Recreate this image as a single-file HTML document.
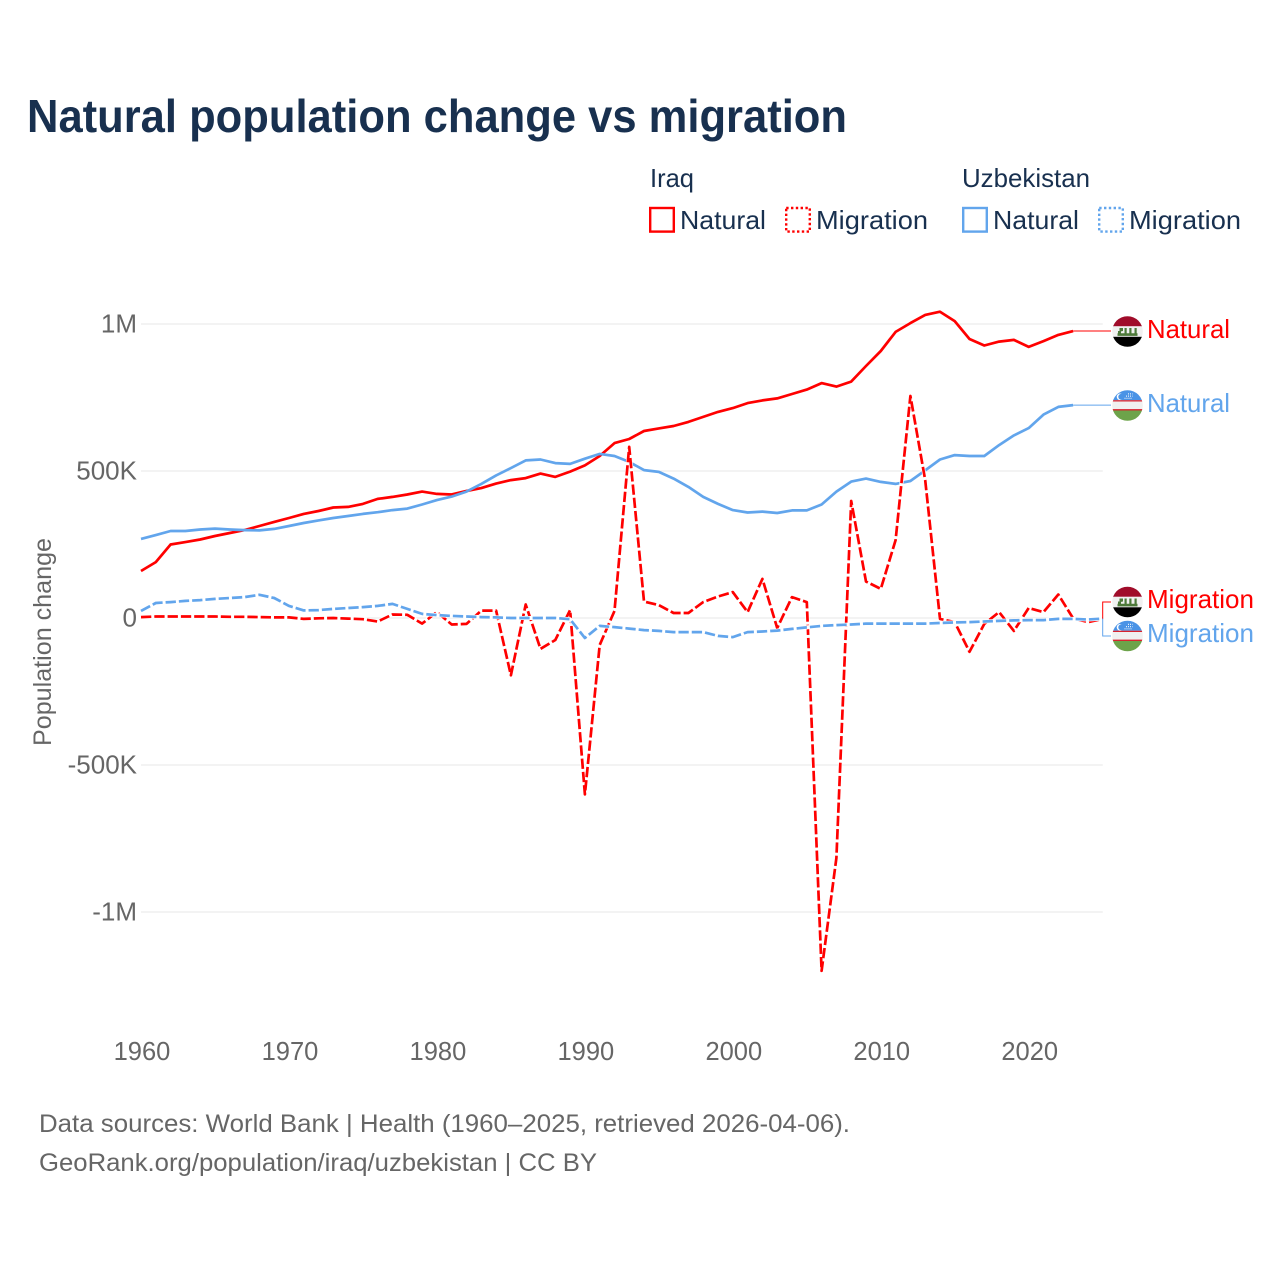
<!DOCTYPE html>
<html lang="en">
<head>
<meta charset="utf-8">
<title>Natural population change vs migration</title>
<style>
html,body{margin:0;padding:0;background:#fff;}
svg{display:block;font-family:"Liberation Sans",sans-serif;}
</style>
</head>
<body>
<svg id="chart" xmlns="http://www.w3.org/2000/svg" width="1280" height="1280" viewBox="0 0 1280 1280">
  <rect width="1280" height="1280" fill="#ffffff"/>
  <text x="27" y="132" font-size="46" font-weight="bold" fill="#18304f" textLength="820" lengthAdjust="spacingAndGlyphs">Natural population change vs migration</text>

  <g font-size="26" fill="#18304f">
    <text x="650" y="187" textLength="44" lengthAdjust="spacingAndGlyphs">Iraq</text>
    <text x="962" y="187" textLength="128" lengthAdjust="spacingAndGlyphs">Uzbekistan</text>
    <rect x="650.200" y="208" width="23.600" height="23.600" fill="none" stroke="#ff0000" stroke-width="2.400"/>
    <text x="680" y="229" textLength="86" lengthAdjust="spacingAndGlyphs">Natural</text>
    <rect x="786.200" y="208" width="23.600" height="23.600" fill="none" stroke="#ff0000" stroke-width="2.400" stroke-dasharray="2.400 2.400"/>
    <text x="816" y="229" textLength="112" lengthAdjust="spacingAndGlyphs">Migration</text>
    <rect x="963.200" y="208" width="23.600" height="23.600" fill="none" stroke="#62a5ec" stroke-width="2.400"/>
    <text x="993" y="229" textLength="86" lengthAdjust="spacingAndGlyphs">Natural</text>
    <rect x="1099.200" y="208" width="23.600" height="23.600" fill="none" stroke="#62a5ec" stroke-width="2.400" stroke-dasharray="2.400 2.400"/>
    <text x="1129" y="229" textLength="112" lengthAdjust="spacingAndGlyphs">Migration</text>
  </g>

  <text transform="translate(51,746) rotate(-90)" font-size="25" fill="#666666" textLength="208" lengthAdjust="spacingAndGlyphs">Population change</text>

  <g id="grid-layer"></g>
  <g id="tick-layer"></g>
  <g id="series-layer"></g>
  <g id="connector-layer"></g>

  <defs>
    <clipPath id="flag-clip"><circle cx="0" cy="0" r="15.3"/></clipPath>
    <g id="flag-iraq">
      <g clip-path="url(#flag-clip)">
        <rect x="-16" y="-16" width="32" height="11" fill="#a00c2a"/>
        <rect x="-16" y="-5.300" width="32" height="10.600" fill="#f0f0f0"/>
        <rect x="-16" y="5.300" width="32" height="11" fill="#000000"/>
        <path d="M-10 1.800h20v2.600h-20z M-9.500-.5h3v2.500h-3z M-8-3.500l3.500 0v3l-3.500 .8z M-3-3.500h2.200v5.500h-2.200z M1.800-3.500h2.200v5.500h-2.200z M7-3.500h2.200v5.500h-2.200z" fill="#4d7a3a"/>
      </g>
    </g>
    <g id="flag-uzbekistan">
      <g clip-path="url(#flag-clip)">
        <rect x="-16" y="-16" width="32" height="10.700" fill="#4a93e6"/>
        <rect x="-16" y="-5.300" width="32" height="1.300" fill="#d8232f"/>
        <rect x="-16" y="-4" width="32" height="7.600" fill="#f0f0f0"/>
        <rect x="-16" y="3.600" width="32" height="1.400" fill="#d8232f"/>
        <rect x="-16" y="5" width="32" height="11" fill="#6da34a"/>
        <circle cx="-7.500" cy="-8.700" r="3.300" fill="#ffffff"/>
        <circle cx="-6.300" cy="-8.700" r="2.900" fill="#4a93e6"/>
        <path d="M-3-7.200h8 M-1.500-9.400h6.500 M0.500-11.600h4.500" fill="none" stroke="#e4effb" stroke-width="1.200" stroke-dasharray="1 1"/>
      </g>
    </g>
  </defs>

  <g font-size="26">
    <use href="#flag-iraq" x="1127.500" y="331.500"/>
    <text x="1147" y="338" fill="#ff0000" textLength="83" lengthAdjust="spacingAndGlyphs">Natural</text>
    <use href="#flag-uzbekistan" x="1127.500" y="405.500"/>
    <text x="1147" y="412" fill="#62a5ec" textLength="83" lengthAdjust="spacingAndGlyphs">Natural</text>
    <use href="#flag-iraq" x="1127.500" y="602"/>
    <text x="1147" y="608" fill="#ff0000" textLength="107" lengthAdjust="spacingAndGlyphs">Migration</text>
    <use href="#flag-uzbekistan" x="1127.500" y="636"/>
    <text x="1147" y="642" fill="#62a5ec" textLength="107" lengthAdjust="spacingAndGlyphs">Migration</text>
  </g>

  <g font-size="25" fill="#666666">
    <text x="39" y="1132" textLength="811" lengthAdjust="spacingAndGlyphs">Data sources: World Bank | Health (1960–2025, retrieved 2026-04-06).</text>
    <text x="39" y="1171" textLength="558" lengthAdjust="spacingAndGlyphs">GeoRank.org/population/iraq/uzbekistan | CC BY</text>
  </g>
</svg>
<script>
const startYear = 1960;
const yTickValues = [1000, 500, 0, -500, -1000];
const yTickLabels = ['1M', '500K', '0', '-500K', '-1M'];
const xTickYears = [1960, 1970, 1980, 1990, 2000, 2010, 2020];

const iraqNatural = [160,190,250,258,267,279,289,299,313,327,340,354,364,376,378,388,405,412,420,430,422,420,432,442,457,469,476,491,480,498,519,551,595,609,636,645,653,667,684,701,714,731,740,747,762,777,799,787,804,857,908,973,1003,1031,1042,1010,949,927,940,946,922,942,963,976];
const uzbekistanNatural = [269,282,296,296,301,304,301,299,298,303,313,323,332,340,347,354,360,367,372,386,401,413,430,456,485,510,536,539,527,524,542,558,551,531,503,497,474,446,412,388,367,359,362,357,366,366,386,430,464,474,463,456,466,502,539,554,551,551,588,621,646,692,718,724];
const iraqMigration = [3,5,5,5,5,5,4,4,3,2,2,-3,-1,0,-2,-4,-12,12,11,-19,20,-22,-20,25,25,-195,46,-105,-75,27,-600,-92,24,582,56,44,17,17,54,73,88,20,133,-34,71,54,-1200,-816,398,124,99,265,755,469,-3,-14,-115,-20,20,-44,34,20,80,-1,-14,-3];
const uzbekistanMigration = [24,51,54,58,61,65,68,71,79,68,41,26,27,31,34,37,41,48,31,14,10,7,5,3,2,0,0,0,0,-4,-68,-27,-31,-36,-41,-44,-48,-48,-48,-61,-65,-48,-46,-43,-37,-32,-27,-24,-22,-19,-19,-19,-19,-19,-17,-15,-14,-12,-10,-8,-7,-7,-3,-3,-5,-2];

const NS = 'http://www.w3.org/2000/svg';
const RED = '#ff0000';
const BLUE = '#62a5ec';
const plotLeft = 141;
const plotRight = 1102.700;
const xScale = function (year) { return plotLeft + (year - 1960) * (plotRight - plotLeft) / 65; };
const yScale = function (value) { return 618 - value * 0.294; };

function linePoints(values) {
  return values.map(function (v, i) {
    return xScale(startYear + i).toFixed(1) + ',' + yScale(v).toFixed(1);
  }).join(' ');
}

const gridLayer = document.getElementById('grid-layer');
const tickLayer = document.getElementById('tick-layer');
const seriesLayer = document.getElementById('series-layer');
const connectorLayer = document.getElementById('connector-layer');

yTickValues.forEach(function (value, i) {
  const line = document.createElementNS(NS, 'line');
  
  
  line.setAttribute('x1', plotLeft);
  line.setAttribute('x2', plotRight);
  line.setAttribute('y1', yScale(value));
  line.setAttribute('y2', yScale(value));
  line.setAttribute('stroke', '#e7e7e7');
  line.setAttribute('stroke-width', '1');
  gridLayer.appendChild(line);

  const label = document.createElementNS(NS, 'text');
  
  
  label.setAttribute('x', 137);
  label.setAttribute('y', yScale(value) + 8.500);
  label.setAttribute('text-anchor', 'end');
  label.setAttribute('font-size', '26');
  label.setAttribute('fill', '#666666');
  label.textContent = yTickLabels[i];
  tickLayer.appendChild(label);
});

xTickYears.forEach(function (year) {
  const label = document.createElementNS(NS, 'text');
  
  
  label.setAttribute('x', xScale(year) + 1);
  label.setAttribute('y', 1060);
  label.setAttribute('text-anchor', 'middle');
  label.setAttribute('font-size', '25.500');
  label.setAttribute('fill', '#666666');
  label.textContent = String(year);
  tickLayer.appendChild(label);
});

function drawSeries(values, color, dashed, name) {
  if (dashed) {
    const halo = document.createElementNS(NS, 'polyline');
    
    
    halo.setAttribute('points', linePoints(values));
    halo.setAttribute('fill', 'none');
    halo.setAttribute('stroke', '#ffffff');
    halo.setAttribute('stroke-width', '4');
    halo.setAttribute('stroke-linejoin', 'round');
    seriesLayer.appendChild(halo);
  }
  const line = document.createElementNS(NS, 'polyline');
  
  
  line.setAttribute('points', linePoints(values));
  line.setAttribute('fill', 'none');
  line.setAttribute('stroke', color);
  line.setAttribute('stroke-width', '2.700');
  line.setAttribute('stroke-linejoin', 'round');
  if (dashed) {
    line.setAttribute('stroke-dasharray', '10.300 3');
  }
  seriesLayer.appendChild(line);
}

drawSeries(iraqNatural, RED, false, 'line-iraq-natural');
drawSeries(uzbekistanNatural, BLUE, false, 'line-uzbekistan-natural');
drawSeries(iraqMigration, RED, true, 'line-iraq-migration');
drawSeries(uzbekistanMigration, BLUE, true, 'line-uzbekistan-migration');

function drawConnector(values, targetY, color, name) {
  const lastIndex = values.length - 1;
  const x0 = xScale(startYear + lastIndex);
  const y0 = yScale(values[lastIndex]);
  const path = document.createElementNS(NS, 'path');
  
  
  const y1 = targetY === null ? y0 : targetY;
  path.setAttribute('d', 'M' + x0 + ' ' + y0 + 'H' + Math.max(x0, 1102) + 'V' + y1 + 'H1111');
  path.setAttribute('fill', 'none');
  path.setAttribute('stroke', color);
  path.setAttribute('stroke-width', '1');
  connectorLayer.appendChild(path);
}

drawConnector(iraqNatural, null, RED, 'connector-iraq-natural');
drawConnector(uzbekistanNatural, null, BLUE, 'connector-uzbekistan-natural');
drawConnector(iraqMigration, 602, RED, 'connector-iraq-migration');
drawConnector(uzbekistanMigration, 636, BLUE, 'connector-uzbekistan-migration');
</script>
</body>
</html>
